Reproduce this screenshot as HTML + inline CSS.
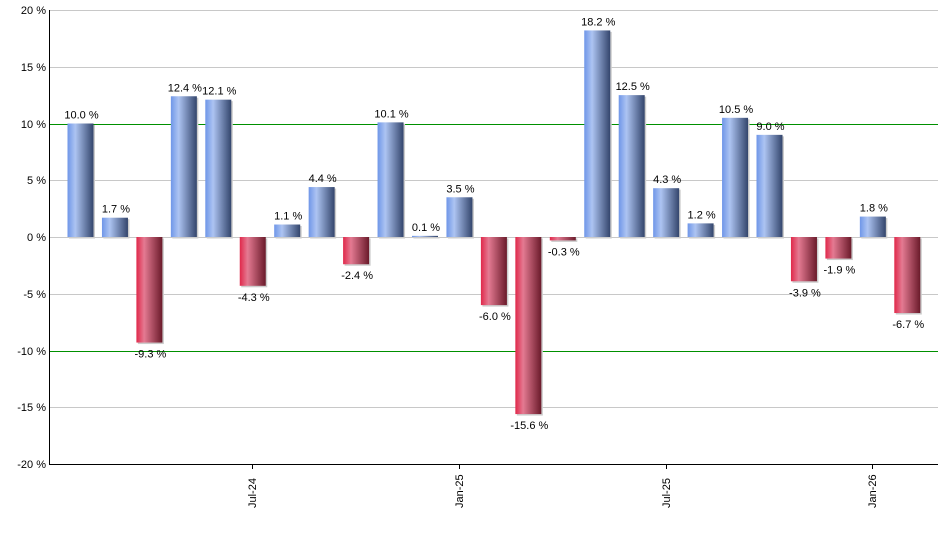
<!DOCTYPE html><html><head><style>body{margin:0;background:#fff}svg{display:block;font-family:"Liberation Sans",sans-serif}</style></head><body>
<svg id="s" width="940" height="550" xmlns="http://www.w3.org/2000/svg">
<defs>
<linearGradient id="b" x1="0" x2="1" y1="0" y2="0"><stop offset="0" stop-color="#6f96e8"/><stop offset="0.3" stop-color="#adc4f2"/><stop offset="1" stop-color="#33456c"/></linearGradient>
<linearGradient id="r" x1="0" x2="1" y1="0" y2="0"><stop offset="0" stop-color="#e0284a"/><stop offset="0.3" stop-color="#e47a92"/><stop offset="1" stop-color="#6a1a2a"/></linearGradient>
</defs>
<g id="g"></g>
</svg>
<script>
var g=document.getElementById('g'),h='';
function y(v){return 237-v*11.35;}
for(var v=-20;v<=20;v+=5){var yy=Math.round(y(v));
if(v!=-20)h+='<rect x="50" y="'+yy+'" width="888" height="1" fill="'+((v==10||v==-10)?'#009000':'#c8c8c8')+'"/>';
h+='<text x="46" y="'+(yy+4)+'" font-size="11" text-anchor="end" fill="#000">'+v+' %</text>';}
var d=[10.0,1.7,-9.3,12.4,12.1,-4.3,1.1,4.4,-2.4,10.1,0.1,3.5,-6.0,-15.6,-0.3,18.2,12.5,4.3,1.2,10.5,9.0,-3.9,-1.9,1.8,-6.7];
d.forEach(function(v,i){var x=67.5+34.45*i,t=Math.min(y(v),237),hh=Math.abs(v)*11.35;
h+='<rect x="'+(x+1.5)+'" y="'+(t+1.5)+'" width="26" height="'+hh+'" fill="#ccc"/>';
h+='<rect x="'+x+'" y="'+t+'" width="26" height="'+hh+'" fill="url(#'+(v>=0?'b':'r')+')"/>';
var ly=v>=0?y(v)-5:y(v)+15;
h+='<text x="'+(x+14)+'" y="'+ly+'" font-size="11" text-anchor="middle" fill="#000">'+v.toFixed(1)+' %</text>';});
h+='<rect x="49" y="10" width="1" height="455" fill="#000"/><rect x="49" y="464" width="889" height="1" fill="#000"/>';
[['Jul-24',252],['Jan-25',459],['Jul-25',666],['Jan-26',872]].forEach(function(a){
h+='<rect x="'+a[1]+'" y="464" width="1" height="5" fill="#000"/>';
h+='<text transform="translate('+(a[1]+4)+',508) rotate(-90)" font-size="11" fill="#000">'+a[0]+'</text>';});
g.innerHTML=h;
</script>
</body></html>
